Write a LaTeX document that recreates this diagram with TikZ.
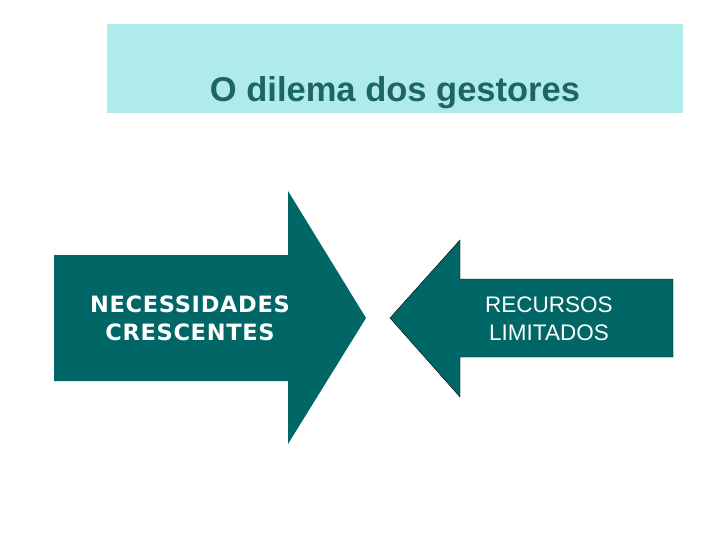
\documentclass[tikz,border=0pt]{standalone}
\usepackage{fontspec}
\setmainfont{Liberation Sans}
\newfontfamily\largafonte[LetterSpace=3]{DejaVu Sans}
\usepackage{tikz}
\definecolor{CianoTitulo}{RGB}{175,235,234}
\definecolor{VerdeSeta}{RGB}{0,102,102}
\definecolor{VerdeTexto}{RGB}{28,102,102}

\begin{document}
\begin{tikzpicture}[x=1pt,y=-1pt]
  \useasboundingbox (0,0) rectangle (720,540);
  \fill[CianoTitulo] (107,24) rectangle (683,113);
  \node[VerdeTexto,anchor=base,font=\fontsize{34.5}{40}\selectfont\bfseries] (titulo) at (395,102) {O dilema dos gestores};
  % seta da esquerda
  \fill[VerdeSeta] (54,255) -- (288,255) -- (288,191) -- (366,318) -- (288,444) -- (288,381) -- (54,381) -- cycle;
  \node[white,align=center,font=\largafonte\fontsize{22.5}{28}\selectfont\bfseries] (necessidades) at (190,318) {NECESSIDADES\\CRESCENTES};
  % seta da direita
  \filldraw[fill=VerdeSeta,draw=black,thin] (673,279) -- (460,279) -- (460,240) -- (390,318) -- (460,397) -- (460,357) -- (673,357) -- cycle;
  \node[white,align=center,font=\fontsize{22.5}{28}\selectfont] (recursos) at (549,319) {RECURSOS\\LIMITADOS};
\end{tikzpicture}
\end{document}
